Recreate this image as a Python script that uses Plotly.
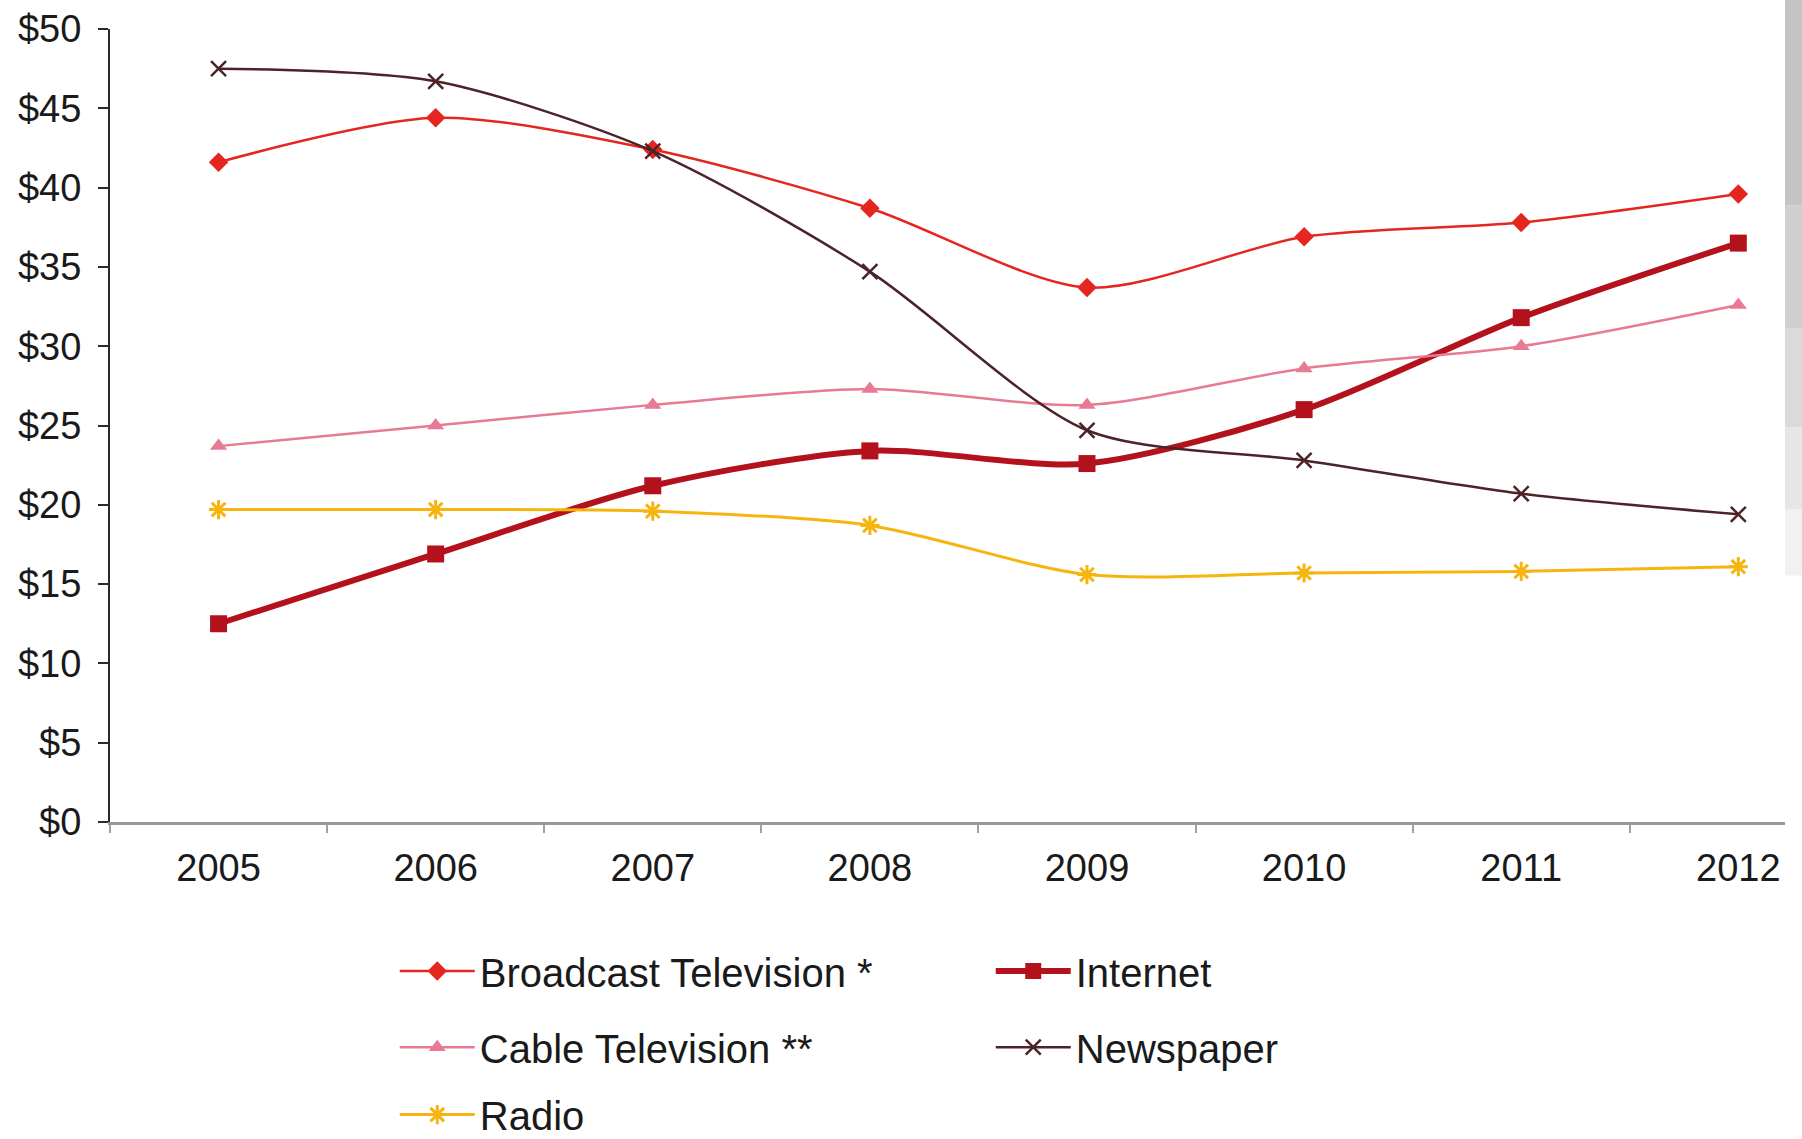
import plotly.graph_objects as go

years = ["2005", "2006", "2007", "2008", "2009", "2010", "2011", "2012"]

broadcast_tv = [41.6, 44.4, 42.4, 38.7, 33.7, 36.9, 37.8, 39.6]
internet = [12.5, 16.9, 21.2, 23.4, 22.6, 26.0, 31.8, 36.5]
cable_tv = [23.7, 25.0, 26.3, 27.3, 26.3, 28.6, 30.0, 32.6]
newspaper = [47.5, 46.7, 42.3, 34.7, 24.7, 22.8, 20.7, 19.4]
radio = [19.7, 19.7, 19.6, 18.7, 15.6, 15.7, 15.8, 16.1]

y_ticks = [0, 5, 10, 15, 20, 25, 30, 35, 40, 45, 50]
y_tick_labels = ["$" + str(v) for v in y_ticks]

FONT = "Arial, Liberation Sans, sans-serif"
TEXT = "#1a1a1a"

# each legend row is its own legend box
series = [
    dict(name="Broadcast Television *", y=broadcast_tv, color="#e52620", width=2.5,
         symbol="diamond", size=15, mline=0, legend="legend"),
    dict(name="Internet", y=internet, color="#b3121c", width=6,
         symbol="square", size=17, mline=0, legend="legend"),
    dict(name="Cable Television **", y=cable_tv, color="#e97a93", width=2.5,
         symbol="triangle-up", size=15, mline=0, legend="legend2"),
    dict(name="Newspaper", y=newspaper, color="#4b2329", width=2.5,
         symbol="x-thin", size=15, mline=2.5, legend="legend2"),
    dict(name="Radio", y=radio, color="#f6b50e", width=3,
         symbol="asterisk", size=16, mline=3, legend="legend3"),
]

fig = go.Figure()
for s in series:
    fig.add_trace(go.Scatter(
        x=years, y=s["y"], name=s["name"], mode="lines+markers",
        line=dict(color=s["color"], width=s["width"], shape="spline", smoothing=0.8),
        marker=dict(symbol=s["symbol"], size=s["size"], color=s["color"],
                    line=dict(color=s["color"], width=s["mline"])),
        legend=s["legend"],
    ))

# soft grey band along the right edge
band_steps = [("#c4c4c4", 0.0, 0.25), ("#cfcfcf", 0.25, 0.4), ("#dadada", 0.4, 0.52),
              ("#e6e6e6", 0.52, 0.62), ("#f1f1f1", 0.62, 0.7)]
for col, f0, f1 in band_steps:
    fig.add_shape(type="rect", xref="paper", yref="paper",
                  x0=1.0, x1=1.02, y0=1.0366 - f1 * 1.0366, y1=1.0366 - f0 * 1.0366,
                  fillcolor=col, line=dict(width=0), layer="below")

legend_common = dict(
    orientation="h", x=0.170, xanchor="left", yanchor="middle",
    entrywidth=506, entrywidthmode="pixels", itemwidth=75,
    font=dict(family=FONT, size=40, color=TEXT),
    bgcolor="rgba(0,0,0,0)", borderwidth=0,
)

fig.update_layout(
    width=1802, height=1139,
    margin=dict(l=110, r=17, t=29, b=317, autoexpand=False),
    paper_bgcolor="white", plot_bgcolor="white",
    font=dict(family=FONT, size=38, color=TEXT),
    showlegend=True,
    legend=dict(legend_common, y=-0.188),
    legend2=dict(legend_common, y=-0.284),
    legend3=dict(legend_common, y=-0.369),
    xaxis=dict(
        type="category", range=[-0.5, 7.215],
        showline=True, linecolor="#9a9a9a", linewidth=3,
        ticks="outside", tickson="boundaries", ticklen=8, tickcolor="#a0a0a0", tickwidth=1.5,
        showgrid=False, zeroline=False, ticklabelstandoff=10,
        tickfont=dict(family=FONT, size=38, color=TEXT),
    ),
    yaxis=dict(
        range=[0, 50], tickmode="array", tickvals=y_ticks, ticktext=y_tick_labels,
        showline=True, linecolor="#2a2a2a", linewidth=2,
        ticks="outside", ticklen=10, tickcolor="#2a2a2a", tickwidth=2,
        showgrid=False, zeroline=False, ticklabelstandoff=9,
        tickfont=dict(family=FONT, size=38, color=TEXT),
    ),
)

fig.write_html("out.html")
